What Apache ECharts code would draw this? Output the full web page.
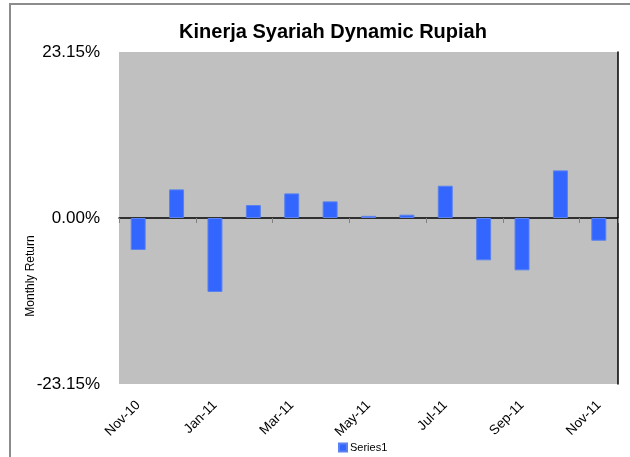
<!DOCTYPE html>
<html><head><meta charset="utf-8">
<script src="https://cdn.jsdelivr.net/npm/echarts@6/dist/echarts.min.js"></script>
<style>html,body{margin:0;padding:0;background:#fff}#c{width:630px;height:457px}</style>
</head><body><div id="c"></div>
<script>
var categories = ['Nov-10','Dec-10','Jan-11','Feb-11','Mar-11','Apr-11','May-11','Jun-11','Jul-11','Aug-11','Sep-11','Oct-11','Nov-11'];
var series1 = [-4.46, 3.99, -10.32, 1.81, 3.43, 2.32, 0.30, 0.46, 4.50, -5.90, -7.30, 6.64, -3.17];
var yMin = -23.15, yMax = 23.15, yStep = 23.15;
var titleText = 'Kinerja Syariah Dynamic Rupiah';
var yName = 'Monthly Return';
var seriesName = 'Series1';

var font = 'Liberation Sans, Arial, sans-serif';
var chart = echarts.init(document.getElementById('c'));
chart.setOption({
  animation: false,
  backgroundColor: '#ffffff',
  title: { text: titleText, left: 328, textAlign: 'center', top: 17,
    textStyle: { fontFamily: font, fontSize: 20, fontWeight: 'bold', color: '#000' } },
  legend: { data: [seriesName], left: 333, top: 437, icon: 'rect', itemWidth: 8, itemHeight: 8, itemGap: 4,
    textStyle: { fontFamily: font, fontSize: 11, color: '#000', padding: [0,0,0,-2] } },
  graphic: [
    { type: 'rect', shape: { x: 10, y: 4, width: 640, height: 480 }, style: { fill: null, stroke: '#8c8c8c', lineWidth: 2 }, z: -10 },
    { type: 'text', x: 31, y: 276, rotation: Math.PI / 2,
      style: { text: yName, fontFamily: font, fontSize: 12, fill: '#000', textAlign: 'center', textVerticalAlign: 'middle' } }
  ],
  grid: { left: 119, right: 12, top: 52, bottom: 73, show: true, backgroundColor: '#c0c0c0', borderWidth: 0 },
  xAxis: [
    { type: 'category', data: categories, position: 'bottom',
      axisLine: { show: false, onZero: false }, axisTick: { show: false },
      axisLabel: { interval: 1, rotate: 45, margin: 19, fontFamily: font, fontSize: 13.5, color: '#000' } },
    { type: 'category', data: categories, position: 'top',
      axisLine: { show: true, onZero: true, lineStyle: { color: '#000', width: 1.5 } },
      axisTick: { show: true, inside: true, length: 5, lineStyle: { color: '#808080' } },
      axisLabel: { show: false } }
  ],
  yAxis: [
    { type: 'value', min: yMin, max: yMax, interval: yStep,
      axisLine: { show: false }, axisTick: { show: false }, splitLine: { show: false },
      axisLabel: { margin: 19, fontFamily: font, fontSize: 17, color: '#000',
        formatter: function (v) { if (Math.abs(v) < 1e-9) v = 0; return v.toFixed(2) + '%'; } } },
    { type: 'value', min: yMin, max: yMax, interval: yStep, position: 'right',
      axisLine: { show: true, lineStyle: { color: '#000', width: 1.5 } }, axisTick: { show: false },
      axisLabel: { show: false }, splitLine: { show: false } }
  ],
  series: [{
    name: seriesName, type: 'bar', data: series1, xAxisIndex: 0, yAxisIndex: 0, barWidth: '39%',
    itemStyle: { color: '#3366ff', borderColor: '#5a82f0', borderWidth: 1 }
  }]
});
</script></body></html>
